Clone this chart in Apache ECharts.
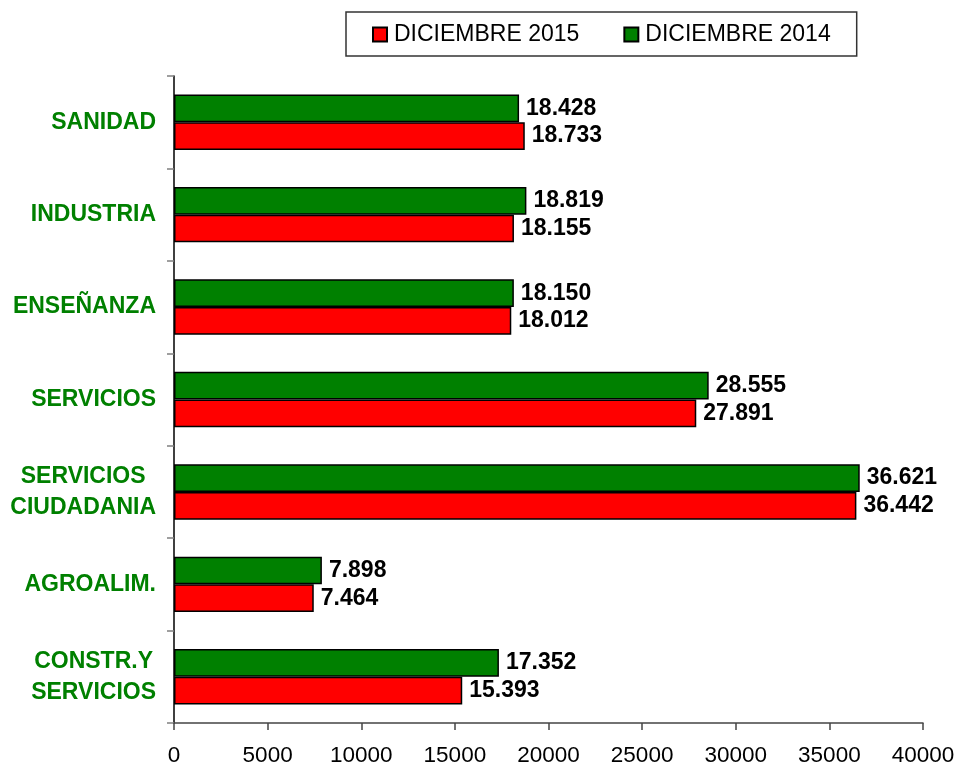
<!DOCTYPE html>
<html>
<head>
<meta charset="utf-8">
<script src="https://cdn.jsdelivr.net/npm/echarts@6/dist/echarts.min.js"></script>
<style>html,body{margin:0;padding:0;background:#fff;}#c{width:962px;height:767px;}</style>
</head>
<body>
<div id="c"></div>
<script>
const categories = ['SANIDAD', 'INDUSTRIA', 'ENSEÑANZA', 'SERVICIOS', 'SERVICIOS\nCIUDADANIA', 'AGROALIM.', 'CONSTR.Y\nSERVICIOS'];
const values2015 = [18733, 18155, 18012, 27891, 36442, 7464, 15393];
const values2014 = [18428, 18819, 18150, 28555, 36621, 7898, 17352];
const xTicks = { min: 0, max: 40000, interval: 5000 };

function fmt(v) {
  return String(v).replace(/\B(?=(\d{3})+(?!\d))/g, '.');
}
const FONT = 'Liberation Sans, Arial, sans-serif';

const chart = echarts.init(document.getElementById('c'));
const labelStyle = {
  show: true, position: 'right', distance: 7,
  color: '#000', fontFamily: FONT, fontWeight: 'bold', fontSize: 23,
  formatter: p => fmt(p.value)
};
chart.setOption({
  animation: false,
  backgroundColor: '#fff',
  legend: {
    data: [{ name: 'DICIEMBRE 2015', icon: 'rect' }, { name: 'DICIEMBRE 2014', icon: 'rect' }],
    left: 346, top: 12,
    padding: [11, 26, 10, 26],
    itemWidth: 14, itemHeight: 14, itemGap: 44,
    borderColor: '#333', borderWidth: 1.5,
    textStyle: { fontFamily: FONT, fontSize: 23, color: '#000', padding: [0, 0, 0, 2] }
  },
  grid: { left: 174, right: 39, top: 76, bottom: 44, containLabel: false },
  xAxis: {
    type: 'value', min: xTicks.min, max: xTicks.max, interval: xTicks.interval,
    splitLine: { show: false },
    axisLine: { show: true, lineStyle: { color: '#444', width: 1.5 } },
    axisTick: { show: true, length: 7, lineStyle: { color: '#444', width: 1.5 } },
    axisLabel: { color: '#000', fontFamily: FONT, fontSize: 22.5, margin: 21, formatter: v => String(v) }
  },
  yAxis: {
    type: 'category', data: categories, inverse: true,
    axisLine: { show: true, lineStyle: { color: '#000', width: 1.5 } },
    axisTick: { show: true, length: 7, alignWithLabel: false, lineStyle: { color: '#808080', width: 1.5 } },
    axisLabel: {
      margin: 18,
      formatter: v => v.indexOf('\n') >= 0 ? v.split('\n').map(s => '{c|' + s + '}').join('\n') : v,
      color: '#008000', fontFamily: FONT, fontWeight: 'bold', fontSize: 23, lineHeight: 31,
      rich: { c: { align: 'center', color: '#008000', fontFamily: FONT, fontWeight: 'bold', fontSize: 23, lineHeight: 31 } }
    }
  },
  series: [
    {
      name: 'DICIEMBRE 2014', type: 'bar', data: values2014,
      barGap: '0%', barCategoryGap: '40%',
      itemStyle: { color: '#008000', borderColor: '#000', borderWidth: 1.5 },
      label: labelStyle
    },
    {
      name: 'DICIEMBRE 2015', type: 'bar', data: values2015,
      barGap: '0%', barCategoryGap: '40%',
      itemStyle: { color: '#FF0000', borderColor: '#000', borderWidth: 1.5 },
      label: labelStyle
    }
  ]
});
</script>
</body>
</html>
